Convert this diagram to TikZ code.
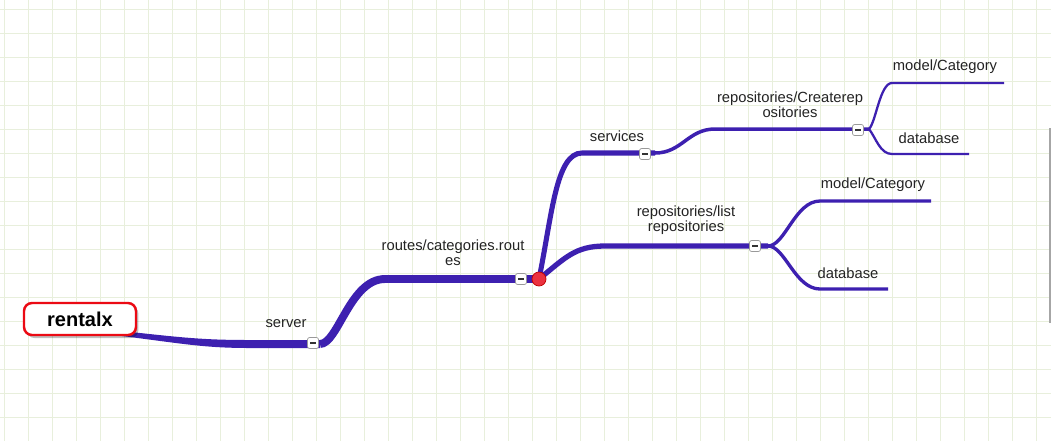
\documentclass[tikz,border=0pt]{standalone}
\usepackage{fontspec}
\setmainfont{Liberation Sans}
\usetikzlibrary{shadows,calc}
\definecolor{br}{RGB}{61,32,176}
\definecolor{gridc}{RGB}{232,239,220}
\definecolor{redb}{RGB}{235,10,20}
\definecolor{dot}{RGB}{235,50,64}
\definecolor{txt}{RGB}{35,35,35}
\tikzset{
  lbl/.style={inner sep=0pt, text=txt, align=center, font=\fontsize{8.4}{8.5}\selectfont},
  btn/.style={draw=black!40, fill=white, rounded corners=1.2pt, line width=0.4pt,
    minimum size=0.22cm, inner sep=0pt,
    path picture={\draw[line width=1.1pt, black!80]
      ([xshift=-0.06cm]path picture bounding box.center) --
      ([xshift=0.06cm]path picture bounding box.center);}},
  rootbox/.style={draw=redb, fill=white, line width=1.4pt, rounded corners=0.16cm,
    minimum width=2.24cm, minimum height=0.64cm, inner sep=0pt,
    font=\fontsize{11.4}{13}\selectfont\bfseries, text=black,
    drop shadow={shadow xshift=0.05cm, shadow yshift=-0.06cm, opacity=0.25, fill=black}},
  gridline/.style={gridc, line width=0.55pt},
  b1/.style={br, line width=4.5pt},
  b2/.style={br, line width=2.9pt},
  b3/.style={br, line width=2pt},
  b4/.style={br, line width=1.3pt},
  b5/.style={br, line width=3pt},
  b6/.style={br, line width=1.9pt},
}
\begin{document}
\begin{tikzpicture}[x=0.02cm,y=-0.02cm]
\fill[white] (0,0) rectangle (1051,441);
\useasboundingbox (0,0) rectangle (1051,441);
\foreach \i in {0,...,43} \draw[gridline] (4+24*\i,0) -- (4+24*\i,441);
\foreach \j in {0,...,17} \draw[gridline] (0,9+24*\j) -- (1051,9+24*\j);
\draw[black!35, line width=0.6pt] (1050,128) -- (1050,323);

\coordinate (r0) at (122,333);
\coordinate (srv) at (320,344);
\coordinate (hub) at (539,279);
\coordinate (svc) at (655,153);
\coordinate (crt) at (869,129);
\coordinate (crtM) at (1004,83);
\coordinate (crtD) at (969,154);
\coordinate (lst) at (768,246);
\coordinate (lstM) at (931,201);
\coordinate (lstD) at (888,289);

% tapered root branch
\fill[br] ($(r0)+(0,-2)$) .. controls (185,338) and (205,340) .. (250,340)
  -- ($(srv)+(0,-4)$) -- ($(srv)+(0,4)$) -- (250,348)
  .. controls (205,348) and (185,344) .. ($(r0)+(0,3)$) -- cycle;
\draw[b1] (srv) .. controls (338,344) and (350,279) .. (385,279) -- (hub);
\draw[b2] (hub) .. controls (552,215) and (556,153) .. (582,153) -- (svc);
\draw[b3] (svc) .. controls (682,153) and (688,129) .. (715,129) -- (crt);
\draw[b4] (crt) .. controls (876,122) and (880,83) .. (892,83) -- (crtM);
\draw[b4] (crt) .. controls (876,138) and (880,154) .. (892,154) -- (crtD);
\draw[b5] (hub) .. controls (565,258) and (575,246) .. (605,246) -- (lst);
\draw[b6] (lst) .. controls (785,246) and (795,201) .. (820,201) -- (lstM);
\draw[b6] (lst) .. controls (785,246) and (795,289) .. (820,289) -- (lstD);

\node[rootbox] (rentalx) at (80,319) {rentalx};

\node[btn] (bsrv) at (313,343) {};
\node[btn] (brt) at (521,279) {};
\node[btn] (bsvc) at (645,154) {};
\node[btn] (bcrt) at (858,130) {};
\node[btn] (blst) at (755,246) {};
\node[circle, fill=dot, draw=red!75!black, line width=0.4pt, minimum size=0.28cm, inner sep=0pt] (hubdot) at (hub) {};

\node[lbl] (lserver) at (286,324) {server};
\node[lbl] (lroutes) at (453,253) {routes/categories.rout\\es};
\node[lbl] (lsvc) at (617,136) {services};
\node[lbl] (lcrt) at (790,104.5) {repositories/Createrep\\ositories};
\node[lbl] (lcm) at (945,67) {model/Category};
\node[lbl] (lcd) at (929,138) {database};
\node[lbl] (llst) at (686,220.5) {repositories/list\\repositories};
\node[lbl] (llm) at (873,185) {model/Category};
\node[lbl] (lld) at (848,273) {database};
\end{tikzpicture}
\end{document}
